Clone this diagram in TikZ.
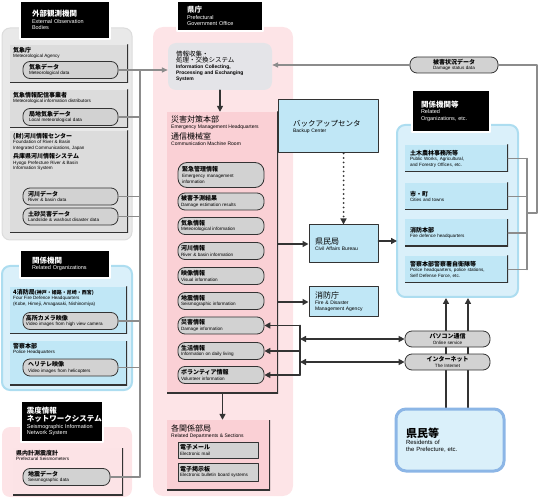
\documentclass[tikz,border=0pt]{standalone}
\usepackage{fontspec}
\setmainfont{Liberation Sans}
\newfontfamily\jfont{Noto Sans CJK JP}
\usetikzlibrary{arrows.meta}
\definecolor{pinkpanel}{HTML}{FDE4E7}
\definecolor{pinkbox}{HTML}{FAD0D5}
\definecolor{graypanel}{HTML}{E9E9E9}
\definecolor{graybox}{HTML}{DCDCDC}
\definecolor{bluepanel}{HTML}{DAF0FA}
\definecolor{blueedge}{HTML}{ADDDF0}
\definecolor{bluebox}{HTML}{C0E7F6}
\definecolor{pillgray}{HTML}{D2D2D2}
\definecolor{infogray}{HTML}{E4E4E8}
\definecolor{dark}{HTML}{333333}
\definecolor{linegray}{HTML}{8C8C8C}
\definecolor{resblue}{HTML}{8CB6E6}
\newcommand\jp[1]{{\jfont\fontsize{6.5}{7.5}\selectfont#1}}
\newcommand\jb[1]{{\jfont\bfseries\fontsize{6}{7}\selectfont#1}}
\newcommand\jh[1]{{\jfont\bfseries\fontsize{7.5}{9}\selectfont#1}}
\begin{document}
\begin{tikzpicture}[x=1pt,y=-1pt,line cap=round,line join=round,
  every node/.style={inner sep=0pt,font=\fontsize{4.6}{5.6}\selectfont},
  ttl/.style={fill=black,draw=white,line width=1.2pt,text=white,align=left,font=\fontsize{5.5}{6.5}\selectfont},
  hd/.style={anchor=north west,align=left,inner sep=1pt},
  shadowed/.style={path picture={\draw[line width=2.4pt,dark] (path picture bounding box.north east) -- (path picture bounding box.south east) -- (path picture bounding box.south west);}},
  pill/.style={draw=dark,line width=0.8pt,fill=pillgray,rounded corners=7pt,align=left,minimum height=17},
  sqitem/.style={draw=dark,line width=0.8pt,fill=pillgray,align=left,minimum height=16},
  bluebox/.style={draw=dark,line width=1pt,fill=bluebox,align=left,font=\fontsize{5}{6}\selectfont},
  relitem/.style={fill=bluebox,shadowed,align=left,minimum width=103,text width=93,minimum height=27},
  arr/.style={draw=dark,line width=1.6pt,-{Triangle[length=6pt,width=6pt]}},
  garr/.style={draw=linegray,line width=1.4pt,-{Triangle[length=6pt,width=5pt]}},
  gline/.style={draw=linegray,line width=1.4pt}]
\useasboundingbox (0,0) rectangle (539,500);
% external observation bodies
\path[fill=graypanel,draw=graybox,line width=1pt,rounded corners=8pt] (2,28) rectangle (132,240);
\node[ttl,minimum width=90,minimum height=38,text width=66] (obs) at (65,20) {\jh{外部観測機関}\\External Observation\\Bodies};
\path[fill=graybox,shadowed] (10,45) rectangle (128,83);
\node[hd] (jma) at (12,46) {\jb{気象庁}\\Meteorological Agency};
\node[pill,minimum width=95,text width=83] (metdata) at (70.5,70) {\jb{気象データ}\\Meteorological data};
\path[fill=graybox,shadowed] (10,90) rectangle (128,128);
\node[hd] (dist) at (12,91) {\jb{気象情報配信事業者}\\Meteorological information distributors};
\node[pill,minimum width=95,text width=83] (localdata) at (70.5,117) {\jb{局地気象データ}\\Local meteorological data};
\path[fill=graybox,shadowed] (10,131) rectangle (128,233);
\node[hd] (river) at (12,132) {\jb{(財)河川情報センター}\\Foundation of River \& Basin\\Integrated Communications, Japan\\[2pt]\jb{兵庫県河川情報システム}\\Hyogo Prefecture River \& Basin\\Information System};
\node[pill,minimum width=95,text width=85] (riverdata) at (70.5,196.5) {\jb{河川データ}\\River \& basin data};
\node[pill,minimum width=95,text width=85] (slidedata) at (70.5,216.5) {\jb{土砂災害データ}\\Landslide \& washout disaster data};
% related organizations
\path[fill=bluepanel,draw=blueedge,line width=2pt,rounded corners=8pt] (2,266) rectangle (132,390);
\node[ttl,minimum width=90,minimum height=28,text width=66] (relorg) at (65,264) {\jh{関係機関}\\Related Organizations};
\path[fill=bluebox,shadowed] (10,287) rectangle (127,334);
\node[hd] (fire4) at (12,288) {\jb{4消防局{\fontsize{5}{6}\selectfont(神戸・姫路・尼崎・西宮)}}\\Four Fire Defence Headquarters\\(Kobe, Himeji, Amagasaki, Nishinomiya)};
\node[pill,minimum width=95,text width=89] (camera) at (70.5,321) {\jb{高所カメラ映像}\\Video images from high view camera};
\path[fill=bluebox,shadowed] (10,341) rectangle (127,385);
\node[hd] (police) at (12,342) {\jb{警察本部}\\Police Headquarters};
\node[pill,minimum width=95,text width=85] (heli) at (70.5,367.5) {\jb{ヘリテレ映像}\\Video images from helicopters};
% seismographic network
\path[fill=pinkpanel,rounded corners=8pt] (2,427) rectangle (132,497);
\node[ttl,minimum width=82,minimum height=41,text width=70] (seisnet) at (62,421.5) {\jh{震度情報}\\\jh{ネットワークシステム}\\Seismographic Information\\Network System};
\path[fill=pinkbox!60,shadowed] (13,448) rectangle (123,495);
\node[hd] (seismo) at (15,449) {\jb{県内計測震度計}\\Prefectural Seismometers};
\node[pill,minimum width=87,text width=77] (seisdata) at (66.5,477) {\jb{地震データ}\\Seismographic data};
% prefectural government office
\path[fill=pinkpanel,rounded corners=10pt] (153,27) rectangle (293,496);
\node[ttl,minimum width=86,minimum height=30,text width=66] (pref) at (220,16) {\jh{県庁}\\Prefectural\\Government Office};
\node[fill=infogray,rounded corners=8pt,minimum width=104,minimum height=47,text width=88,align=left,font=\fontsize{5}{6}\selectfont] (info) at (220,66.5) {\jp{情報収集・}\\\jp{処理・交換システム}\\\bfseries Information Collecting,\\\bfseries Processing and Exchanging\\\bfseries System};
\node[fill=pinkbox,shadowed,minimum width=111,minimum height=281] (hq) at (222.5,252.5) {};
\node[hd,font=\fontsize{5}{6}\selectfont] (hqtitle) at (170,115) {\jp{\fontsize{8}{9}\selectfont 災害対策本部}\\Emergency Management Headquarters\\[2pt]\jp{\fontsize{8}{9}\selectfont 通信機械室}\\Communication Machine Room};
\node[pill,rounded corners=9pt,minimum width=86,text width=78,minimum height=25] (emg) at (221,175) {\jb{緊急管理情報}\\Emergency management\\information};
\node[pill,minimum width=86,text width=80] (dmgest) at (221,201.5) {\jb{被害予測結果}\\Damage estimation results};
\node[pill,minimum width=86,text width=80] (metinfo) at (221,226) {\jb{気象情報}\\Meteorological information};
\node[pill,minimum width=86,text width=80] (rivinfo) at (221,251) {\jb{河川情報}\\River \& basin information};
\node[pill,minimum width=86,text width=80] (visinfo) at (221,276) {\jb{映像情報}\\Visual information};
\node[pill,minimum width=86,text width=80] (seisinfo) at (221,301) {\jb{地震情報}\\Seismographic information};
\node[pill,minimum width=86,text width=80] (dmginfo) at (221,325.5) {\jb{災害情報}\\Damage information};
\node[pill,minimum width=86,text width=80] (lifeinfo) at (221,351) {\jb{生活情報}\\Information on daily living};
\node[pill,minimum width=86,text width=80] (volinfo) at (221,375) {\jb{ボランティア情報}\\Volunteer information};
\node[fill=pinkbox,shadowed,minimum width=103,minimum height=70] (dept) at (218.5,455) {};
\node[hd,font=\fontsize{5}{6}\selectfont] (depttitle) at (170,424) {\jp{\fontsize{8}{9}\selectfont 各関係部局}\\Related Departments \& Sections};
\node[sqitem,minimum width=80,text width=76] (mail) at (218,450) {\jb{電子メール}\\Electronic mail};
\node[sqitem,minimum width=80,text width=76,minimum height=18] (bbs) at (218,472) {\jb{電子掲示板}\\Electronic bulletin board systems};
\draw[arr] (info.south) -- (info.south |- hq.north);
\draw[arr] (hq.south) -- (hq.south |- dept.north);
% backup center, bureau, agency
\node[bluebox,minimum width=100,minimum height=53,text width=70] (backup) at (328,126.5) {\jp{\fontsize{7.5}{9}\selectfont バックアップセンタ}\\Backup Center};
\node[bluebox,minimum width=69,minimum height=38,text width=57] (civ) at (343.5,244) {\jp{\fontsize{8}{9}\selectfont 県民局}\\Civil Affairs Bureau};
\node[bluebox,minimum width=69,minimum height=30,text width=57] (fdma) at (343.5,302) {\jp{\fontsize{8}{9}\selectfont 消防庁}\\Fire \& Disaster\\Management Agency};
\draw[dark,line width=2pt,dash pattern=on 0pt off 4.5pt,-{Triangle[length=6pt,width=6pt]}] (backup.south -| civ.north) -- (civ.north);
\draw[arr] (hq.east |- civ.west) -- (civ.west);
\draw[arr] (hq.east |- fdma.west) -- (fdma.west);
% related organizations etc.
\node[pill,minimum width=88,minimum height=16,text width=70,align=center] (dmgstat) at (454,65) {\jb{被害状況データ}\\Damage status data};
\path[fill=bluepanel,draw=blueedge,line width=2pt,rounded corners=8pt] (397,125) rectangle (518,297);
\node[ttl,minimum width=78,minimum height=42,text width=60] (relorgs) at (451,111) {\jh{関係機関等}\\Related\\Organizations, etc.};
\node[relitem] (works) at (456.5,158.5) {\jb{土木農林事務所等}\\Public Works, Agricultural,\\and Forestry Offices, etc.};
\node[relitem] (cities) at (456.5,196.5) {\jb{市・町}\\Cities and towns};
\node[relitem] (firehq) at (456.5,233) {\jb{消防本部}\\Fire defence headquarters};
\node[relitem] (polhq) at (456.5,269.5) {\jb{警察本部警察署自衛隊等}\\Police headquarters, police stations,\\Self Defense Force, etc.};
\coordinate (relin) at (397,241);
\draw[arr] (civ.east |- relin) -- (relin);
\draw[garr] (dmgstat.west) -- (info.east |- dmgstat.west);
\coordinate (rtop) at (527,158.5);
\coordinate (rbot) at (527,269.5);
\draw[gline] (dmgstat.east) -| (537,213) -- (527,213);
\draw[gline] (rtop) -- (rbot);
\foreach \n in {works,cities,firehq,polhq} \draw[gline] (\n.east) -- (\n.east -| rtop);
% networks and residents
\coordinate (up1) at (446,298);
\coordinate (up2) at (468,298);
\draw[arr] (446,408) -- (up1);
\draw[arr] (468,408) -- (up2);
\node[pill,minimum width=85,minimum height=16,text width=75,align=center] (pc) at (447.5,339) {\jb{パソコン通信}\\Online service};
\node[pill,minimum width=85,minimum height=16,text width=75,align=center] (net) at (447.5,362) {\jb{インターネット}\\The Internet};
\node[draw=resblue,line width=3pt,fill=bluepanel,rounded corners=10pt,minimum width=108,minimum height=62,text width=88,align=left,font=\fontsize{6}{7}\selectfont] (res) at (450,440) {\jh{\fontsize{11}{13}\selectfont 県民等}\\Residents of\\the Prefecture, etc.};
\coordinate (bus) at (300,325.5);
\draw[arr] (bus) -- (dmginfo.east);
\draw[dark,line width=1.6pt] (bus) -- (bus |- volinfo.east);
\draw[arr] (bus |- volinfo.east) -- (volinfo.east);
\draw[arr] (bus |- lifeinfo.east) -- (lifeinfo.east);
\draw[dark,line width=1.6pt,{Triangle[length=6pt,width=6pt]}-{Triangle[length=6pt,width=6pt]}] (bus |- pc.west) -- (pc.west);
\draw[dark,line width=1.6pt,{Triangle[length=6pt,width=6pt]}-{Triangle[length=6pt,width=6pt]}] (bus |- net.west) -- (net.west);
% left trunk
\coordinate (trtop) at (140,70);
\coordinate (trbot) at (140,477);
\draw[gline] (trtop) -- (trbot);
\foreach \n in {metdata,localdata,riverdata,slidedata,camera,heli,seisdata} \draw[gline] (\n.east) -- (\n.east -| trtop);
\draw[garr] (trtop) -- (info.west |- trtop);
\end{tikzpicture}
\end{document}
